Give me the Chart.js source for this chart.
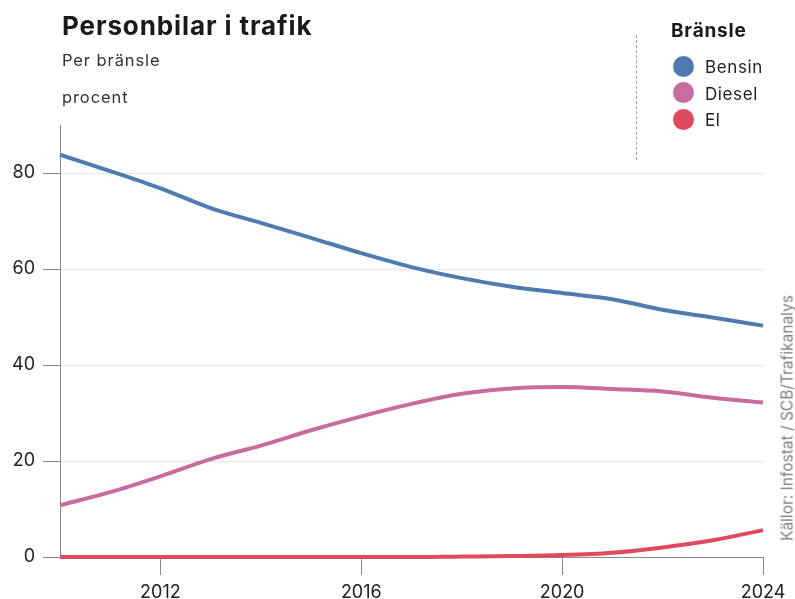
<!DOCTYPE html>
<html>
<head>
<meta charset="utf-8">
<script src="https://cdn.jsdelivr.net/npm/chart.js@4/dist/chart.umd.min.js"></script>
<style>
  body { margin: 0; background: #fff; font-family: Inter, "Noto Sans", sans-serif; color: #1a1a1a; }
  #wrap { position: relative; width: 795px; height: 599px; overflow: hidden; }
  canvas { position: absolute; left: 0; top: 0; }
  .abs { position: absolute; white-space: nowrap; }
  #title { left: 62px; top: 10px; font-size: 26px; font-weight: 700; letter-spacing: 0.9px; }
  #sub { left: 62px; top: 50px; font-size: 16.5px; color: #333; letter-spacing: 0.9px; }
  #unit { left: 62px; top: 87px; font-size: 16.5px; color: #333; letter-spacing: 0.9px; }
  #legtitle { left: 671px; top: 19px; font-size: 19px; font-weight: 700; letter-spacing: 0.8px; }
  .leg { left: 673px; font-size: 17px; color: #222; letter-spacing: 0.6px; }
  .leg span { display: inline-block; width: 21px; height: 21px; border-radius: 50%; vertical-align: middle; margin-right: 11px; position: relative; top: -2px; }
  #source { left: 787px; top: 418px; font-size: 15.5px; color: #808080; transform: translate(-50%, -50%) rotate(-90deg); }
  #dash { left: 636px; top: 35px; height: 125px; border-left: 1px dashed #777; opacity: 0.7; }
</style>
</head>
<body>
<div id="wrap">
  <canvas id="chart" width="795" height="599"></canvas>
  <div class="abs" id="title">Personbilar i trafik</div>
  <div class="abs" id="sub">Per bränsle</div>
  <div class="abs" id="unit">procent</div>
  <div class="abs" id="dash"></div>
  <div class="abs" id="legtitle">Bränsle</div>
  <div id="legend"></div>
  <div class="abs" id="source">Källor: Infostat / SCB/Trafikanalys</div>
</div>
<script>
const years = [2010, 2011, 2012, 2013, 2014, 2015, 2016, 2017, 2018, 2019, 2020, 2021, 2022, 2023, 2024];
const bensin = [83.8, 80.4, 76.8, 72.7, 69.6, 66.5, 63.3, 60.4, 58.1, 56.3, 55.0, 53.7, 51.5, 49.9, 48.2];
const diesel = [10.8, 13.5, 16.8, 20.4, 23.2, 26.4, 29.3, 31.9, 34.0, 35.1, 35.4, 35.0, 34.5, 33.2, 32.2];
const el = [0, 0, 0, 0, 0, 0, 0, 0, 0.1, 0.2, 0.4, 0.9, 2.0, 3.5, 5.6];
const seriesNames = ["Bensin", "Diesel", "El"];
const seriesColors = ["#4f7cb0", "#c86b9f", "#e04a5e"];
const xTicks = [2012, 2016, 2020, 2024];
const yTicks = [0, 20, 40, 60, 80];

const legendDiv = document.getElementById("legend");
seriesNames.forEach((name, i) => {
  const d = document.createElement("div");
  d.className = "abs leg";
  d.style.top = (57 + i * 26.5) + "px";
  d.innerHTML = '<span style="background:' + seriesColors[i] + '"></span>' + name;
  legendDiv.appendChild(d);
});

const allSeries = [bensin, diesel, el];
const ctx = document.getElementById('chart').getContext('2d');
new Chart(ctx, {
  type: 'line',
  data: {
    datasets: allSeries.map((vals, i) => ({
      label: seriesNames[i],
      data: years.map((y, j) => ({ x: y, y: vals[j] })),
      borderColor: seriesColors[i],
      borderWidth: 4,
      pointRadius: 0,
      tension: 0.4,
      cubicInterpolationMode: 'monotone',
      clip: false
    })).reverse()
  },
  options: {
    responsive: false,
    animation: false,
    layout: { padding: { left: 0, right: 32, top: 125, bottom: 0 } },
    plugins: { legend: { display: false }, tooltip: { enabled: false } },
    scales: {
      x: {
        type: 'linear',
        min: 2010,
        max: 2024,
        afterBuildTicks: s => { s.ticks = xTicks.map(v => ({ value: v })); },
        ticks: { callback: v => String(v), color: '#222', font: { size: 18, family: 'Inter' }, padding: 7, maxRotation: 0 },
        grid: { drawOnChartArea: false, tickLength: 18, tickColor: '#888' },
        border: { color: '#888', width: 1 },
        afterFit: s => { s.height = 42; }
      },
      y: {
        min: 0,
        max: 90,
        afterBuildTicks: s => { s.ticks = yTicks.map(v => ({ value: v })); },
        ticks: { color: '#222', font: { size: 18, family: 'Inter' }, padding: 8 },
        grid: { color: '#e6e6e6', tickLength: 17, tickColor: '#888' },
        border: { color: '#888', width: 1 },
        afterFit: s => { s.width = 60; }
      }
    }
  }
});
</script>
</body>
</html>
